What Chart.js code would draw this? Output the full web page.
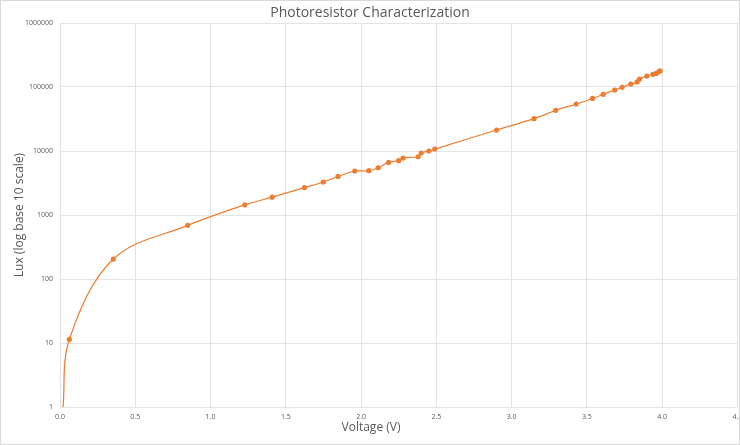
<!DOCTYPE html>
<html>
<head>
<meta charset="utf-8">
<script src="https://cdn.jsdelivr.net/npm/chart.js@4.4.0/dist/chart.umd.min.js"></script>
<style>
  html, body { margin: 0; padding: 0; background: #ffffff; }
  #wrap { width: 740px; height: 445px; position: relative; }
</style>
</head>
<body>
<div id="wrap"><canvas id="c" width="740" height="445"></canvas></div>
<script>
// ---- data ----
const chartTitle = "Photoresistor Characterization";
const xAxisTitle = "Voltage (V)";
const yAxisTitle = "Lux (log base 10 scale)";

const voltage = [0.02, 0.062, 0.354, 0.848, 1.228, 1.409, 1.624, 1.749, 1.847, 1.958,
                 2.052, 2.114, 2.183, 2.25, 2.279, 2.379, 2.399, 2.45, 2.49, 2.90,
                 3.149, 3.293, 3.429, 3.538, 3.609, 3.685, 3.734, 3.792, 3.834, 3.85,
                 3.898, 3.939, 3.961, 3.979, 3.985];
const lux = [1, 11.4, 205, 690, 1440, 1900, 2680, 3280, 4000, 4870,
             4930, 5470, 6640, 7060, 7780, 8130, 9300, 10000, 10700, 21300,
             32000, 43200, 54200, 66200, 76900, 89800, 98900, 111000, 120000, 133000,
             148000, 158000, 163000, 174000, 178000];
// the first value is the start of the drawn curve only (no marker)
const markerShown = voltage.map((v, i) => i !== 0);

const xTicks = [0, 0.5, 1.0, 1.5, 2.0, 2.5, 3.0, 3.5, 4.0, 4.5];
const yTicks = [1, 10, 100, 1000, 10000, 100000, 1000000];

const orange = '#ED7D31';
const textGray = '#595959';
const gridGray = '#E3E3E3';
const FONT = "'Open Sans', 'Liberation Sans', sans-serif";

const points = voltage.map((v, i) => ({ x: v, y: lux[i] }));

const frame = {
  id: 'frame',
  beforeDraw(chart) {
    const ctx = chart.ctx;
    ctx.save();
    ctx.fillStyle = '#ffffff';
    ctx.fillRect(0, 0, chart.width, chart.height);
    ctx.restore();
  },
  afterDraw(chart) {
    const ctx = chart.ctx;
    ctx.save();
    ctx.strokeStyle = '#D9D9D9';
    ctx.lineWidth = 1;
    ctx.strokeRect(0.5, 0.5, chart.width - 1, chart.height - 1);
    // x axis title (positioned as in the reference, centred on the page)
    ctx.fillStyle = textGray;
    ctx.font = "12px " + FONT;
    ctx.textAlign = 'center';
    ctx.textBaseline = 'middle';
    ctx.fillText(xAxisTitle, 371, 428);
    ctx.restore();
  }
};

new Chart(document.getElementById('c'), {
  type: 'line',
  data: {
    datasets: [{
      label: 'Lux',
      data: points,
      borderColor: orange,
      backgroundColor: orange,
      borderWidth: 1.25,
      pointRadius: ctx => markerShown[ctx.dataIndex] ? 2.6 : 0,
      pointHoverRadius: 0,
      pointBorderWidth: 0,
      pointStyle: 'circle',
      tension: 0.35,
      fill: false
    }]
  },
  options: {
    responsive: false,
    animation: false,
    events: [],
    layout: { padding: { left: 0, right: 0, top: 0, bottom: 0 } },
    plugins: {
      legend: { display: false },
      tooltip: { enabled: false },
      title: {
        display: true,
        text: chartTitle,
        color: textGray,
        font: { family: FONT, size: 14, weight: 'normal', lineHeight: 1.2 },
        padding: { top: 5, bottom: 1.2 }
      }
    },
    scales: {
      x: {
        type: 'linear',
        min: 0,
        max: 4.5,
        afterBuildTicks: s => { s.ticks = xTicks.map(v => ({ value: v })); },
        afterFit: s => { s.height = 38; s.paddingLeft = 0; s.paddingRight = 0; },
        grid: { color: gridGray, lineWidth: 1, drawTicks: false },
        border: { display: false },
        ticks: {
          color: textGray,
          font: { family: FONT, size: 7 },
          padding: 6,
          maxRotation: 0,
          autoSkip: false,
          callback: v => Number(v).toFixed(1)
        },
        title: { display: false }
      },
      y: {
        type: 'logarithmic',
        min: 1,
        max: 1000000,
        afterBuildTicks: s => { s.ticks = yTicks.map(v => ({ value: v })); },
        afterFit: s => { s.width = 60; },
        grid: { color: gridGray, lineWidth: 1, drawTicks: false },
        border: { display: false },
        ticks: {
          color: textGray,
          font: { family: FONT, size: 7 },
          padding: 7,
          autoSkip: false,
          callback: v => String(v)
        },
        title: {
          display: true,
          text: yAxisTitle,
          color: textGray,
          font: { family: FONT, size: 12 },
          padding: { top: 12, bottom: 0 }
        }
      }
    }
  },
  plugins: [frame]
});
</script>
</body>
</html>
